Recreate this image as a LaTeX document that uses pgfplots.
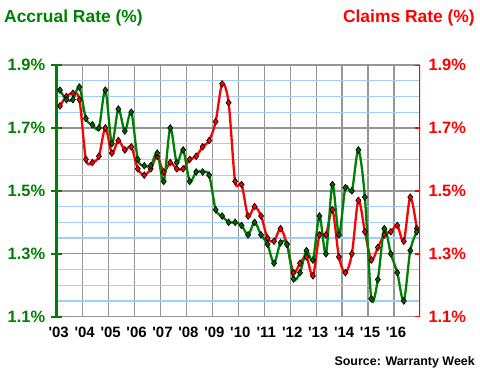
\documentclass[border=0pt]{standalone}
\usepackage{pgfplots}
\pgfplotsset{compat=1.18}
\usepackage{fontspec}
\newfontfamily\arial{Liberation Sans}
\definecolor{cgreen}{RGB}{0,128,0}
\definecolor{cgreenm}{RGB}{0,105,0}
\definecolor{cred}{RGB}{255,0,0}
\definecolor{cgrid}{RGB}{150,150,150}
\definecolor{cminor}{RGB}{160,205,250}

\pgfplotstableread{
x g r
2003.125 1.82 1.77
2003.375 1.79 1.80
2003.625 1.79 1.81
2003.875 1.83 1.79
2004.125 1.73 1.60
2004.375 1.71 1.59
2004.625 1.70 1.61
2004.875 1.82 1.70
2005.125 1.65 1.62
2005.375 1.76 1.66
2005.625 1.69 1.63
2005.875 1.75 1.64
2006.125 1.60 1.57
2006.375 1.58 1.55
2006.625 1.58 1.57
2006.875 1.62 1.61
2007.125 1.53 1.56
2007.375 1.70 1.59
2007.625 1.59 1.57
2007.875 1.63 1.57
2008.125 1.53 1.60
2008.375 1.56 1.61
2008.625 1.56 1.64
2008.875 1.55 1.66
2009.125 1.44 1.72
2009.375 1.42 1.84
2009.625 1.40 1.78
2009.875 1.40 1.53
2010.125 1.39 1.52
2010.375 1.36 1.42
2010.625 1.40 1.45
2010.875 1.36 1.42
2011.125 1.33 1.35
2011.375 1.27 1.34
2011.625 1.335 1.38
2011.875 1.33 1.33
2012.125 1.22 1.24
2012.375 1.24 1.27
2012.625 1.31 1.29
2012.875 1.28 1.23
2013.125 1.42 1.36
2013.375 1.30 1.36
2013.625 1.52 1.44
2013.875 1.36 1.29
2014.125 1.51 1.24
2014.375 1.50 1.30
2014.625 1.63 1.47
2014.875 1.48 1.37
2015.125 1.157 1.28
2015.375 1.218 1.32
2015.625 1.38 1.36
2015.875 1.30 1.37
2016.125 1.24 1.39
2016.375 1.15 1.34
2016.625 1.31 1.48
2016.875 1.37 1.38
}\datatable

\newcommand{\ylab}[1]{\mbox{\arial\bfseries\fontsize{16.5}{16.5}\selectfont #1\%}}

\begin{document}
\begin{tikzpicture}[x=1bp,y=1bp]
\useasboundingbox (0,0) rectangle (480,380);
\begin{axis}[
  at={(56.7bp,63.3bp)}, anchor=south west,
  width=363.3bp, height=251.7bp, scale only axis,
  xmin=2003, xmax=2017, ymin=1.1, ymax=1.9,
  clip=false,
  axis line style={draw=none},
  major tick length=0pt, minor tick length=0pt,
  xtick={2003,...,2016},
  xticklabels={'03,'04,'05,'06,'07,'08,'09,'10,'11,'12,'13,'14,'15,'16},
  xticklabel style={font=\arial\bfseries\fontsize{15}{15}\selectfont, text=black, xshift=2bp, yshift=-7bp},
  ytick={1.1,1.3,1.5,1.7,1.9},
  yticklabels={\ylab{1.1},\ylab{1.3},\ylab{1.5},\ylab{1.7},\ylab{1.9}},
  yticklabel style={text=cgreen, xshift=-8bp},
  minor ytick={1.15,1.2,1.25,1.35,1.4,1.45,1.55,1.6,1.65,1.75,1.8,1.85},
  xmajorgrids, ymajorgrids, yminorgrids,
  major grid style={cgrid, line width=1.3bp},
  minor grid style={cminor, line width=1.2bp},
]
\addplot[cred, line width=2.3bp, smooth, tension=0.5,
  mark=diamond*, mark size=3.3bp,
  mark options={fill=cred, draw=black, line width=0.7bp}]
  table[x=x, y=r] {\datatable};
\addplot[cgreen, line width=2.3bp, smooth, tension=0.5,
  mark=diamond*, mark size=3.3bp,
  mark options={fill=cgreenm, draw=black, line width=0.7bp}]
  table[x=x, y=g] {\datatable};
\draw[cgreen, line width=2.5bp] ([yshift=-1.5bp]axis cs:2003,1.1) -- ([yshift=1.5bp]axis cs:2003,1.9);
\pgfplotsinvokeforeach{1.1,1.3,1.5,1.7,1.9}{
  \draw[cgreen, line width=2bp] ([xshift=-5.5bp]axis cs:2003,#1) -- ([xshift=5.5bp]axis cs:2003,#1);
}
\end{axis}
\begin{axis}[
  at={(56.7bp,63.3bp)}, anchor=south west,
  width=363.3bp, height=251.7bp, scale only axis,
  xmin=2003, xmax=2017, ymin=1.1, ymax=1.9,
  axis x line=none, axis y line*=right,
  y axis line style={draw=none},
  major tick length=0pt,
  ytick={1.1,1.3,1.5,1.7,1.9},
  yticklabels={\ylab{1.1},\ylab{1.3},\ylab{1.5},\ylab{1.7},\ylab{1.9}},
  yticklabel style={text=cred, anchor=west, xshift=5bp},
]
\draw[cred, line width=2.5bp] ([yshift=-1.5bp]axis cs:2017,1.1) -- ([yshift=1.5bp]axis cs:2017,1.9);
\pgfplotsinvokeforeach{1.1,1.3,1.5,1.7,1.9}{
  \draw[cred, line width=2bp] ([xshift=-5.5bp]axis cs:2017,#1) -- ([xshift=5.5bp]axis cs:2017,#1);
}
\end{axis}
\node[anchor=west, inner sep=0pt, text=cgreen, font=\arial\bfseries\fontsize{17.5}{17.5}\selectfont] at (4,362) {Accrual Rate (\%)};
\node[anchor=east, inner sep=0pt, text=cred, font=\arial\bfseries\fontsize{17.5}{17.5}\selectfont] at (475,362) {Claims Rate (\%)};
\node[anchor=east, inner sep=0pt, text=black, font=\arial\bfseries\fontsize{12.5}{12.5}\selectfont] at (475,18) {Source: Warranty Week};
\end{tikzpicture}
\end{document}
